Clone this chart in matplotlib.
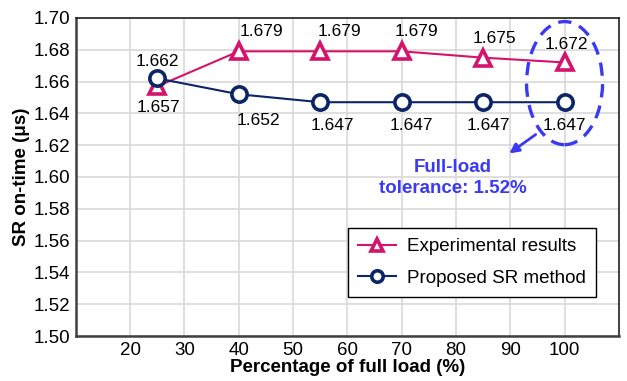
import matplotlib
matplotlib.use("Agg")
import matplotlib.pyplot as plt
from matplotlib.patches import Ellipse

plt.rcParams['font.family'] = ['Liberation Sans', 'DejaVu Sans']

load = [25, 40, 55, 70, 85, 100]
experimental = [1.657, 1.679, 1.679, 1.679, 1.675, 1.672]
proposed = [1.662, 1.652, 1.647, 1.647, 1.647, 1.647]
x_ticks = [20, 30, 40, 50, 60, 70, 80, 90, 100]
y_ticks = [1.50, 1.52, 1.54, 1.56, 1.58, 1.60, 1.62, 1.64, 1.66, 1.68, 1.70]

magenta = "#D4136C"
navy = "#0B2566"
blue = "#3A3AF2"

# value label offsets in points (dx, dy)
exp_offsets = [(1, -15), (16, 14), (14, 14), (11, 14), (8, 14), (1, 13)]
prop_offsets = [(0, 12), (14, -19), (9, -17), (7, -17), (4, -17), (0, -17)]

fig = plt.figure(figsize=(6.27, 3.81), dpi=100)
ax = fig.add_axes([0.121, 0.118, 0.866, 0.835])

ax.plot(load, experimental, color=magenta, lw=1.5, marker='^', ms=11,
        mfc='white', mec=magenta, mew=2.6, label='Experimental results', zorder=3)
ax.plot(load, proposed, color=navy, lw=1.5, marker='o', ms=11,
        mfc='white', mec=navy, mew=2.6, label='Proposed SR method', zorder=3)

for x, y, off in zip(load, experimental, exp_offsets):
    ax.annotate(f"{y:.3f}", (x, y), xytext=off, textcoords='offset points',
                ha='center', va='center', fontsize=12.5, zorder=4)
for x, y, off in zip(load, proposed, prop_offsets):
    ax.annotate(f"{y:.3f}", (x, y), xytext=off, textcoords='offset points',
                ha='center', va='center', fontsize=12.5, zorder=4)

ax.set_xlim(10, 110)
ax.set_ylim(1.50, 1.70)
ax.set_xticks(x_ticks)
ax.set_xticks([10, 110], minor=True)
ax.set_yticks(y_ticks)
ax.set_yticklabels([f"{v:.2f}" for v in y_ticks])
ax.grid(True, color='#d9d9d9', lw=1.2, zorder=0)
ax.tick_params(axis='both', length=0, labelsize=13.5, pad=4)
ax.tick_params(which='minor', length=0)

for side in ['left', 'bottom']:
    ax.spines[side].set_color('#404040')
    ax.spines[side].set_linewidth(1.8)
for side in ['top', 'right']:
    ax.spines[side].set_color('#202020')
    ax.spines[side].set_linewidth(1.2)

ax.set_xlabel('Percentage of full load (%)', fontsize=13.5, fontweight='bold', labelpad=0)
ax.set_ylabel('SR on-time (μs)', fontsize=13.5, fontweight='bold', labelpad=3)

leg = ax.legend(loc='lower right', bbox_to_anchor=(0.958, 0.123), borderaxespad=0,
                fontsize=13.5, frameon=True, fancybox=False, edgecolor='black',
                framealpha=1, handlelength=2.0, markerscale=0.75, borderpad=0.55,
                labelspacing=0.75, handletextpad=0.6)
leg.get_frame().set_linewidth(1.0)

# dashed ellipse around the full-load points
ax.add_patch(Ellipse((100, 1.659), 14.0, 0.0774, fill=False, edgecolor=blue,
                     lw=2.4, ls=(0, (4, 2.5)), zorder=5))
ax.annotate('', xy=(89.4, 1.6138), xytext=(95.1, 1.6277),
            arrowprops=dict(arrowstyle='-|>', color=blue, lw=2, mutation_scale=14), zorder=5)
ax.text(79.4, 1.5995, 'Full-load\ntolerance: 1.52%', color=blue, fontsize=13.5,
        fontweight='bold', ha='center', va='center', linespacing=1.3, zorder=5)

fig.savefig('out.png', dpi=100)
